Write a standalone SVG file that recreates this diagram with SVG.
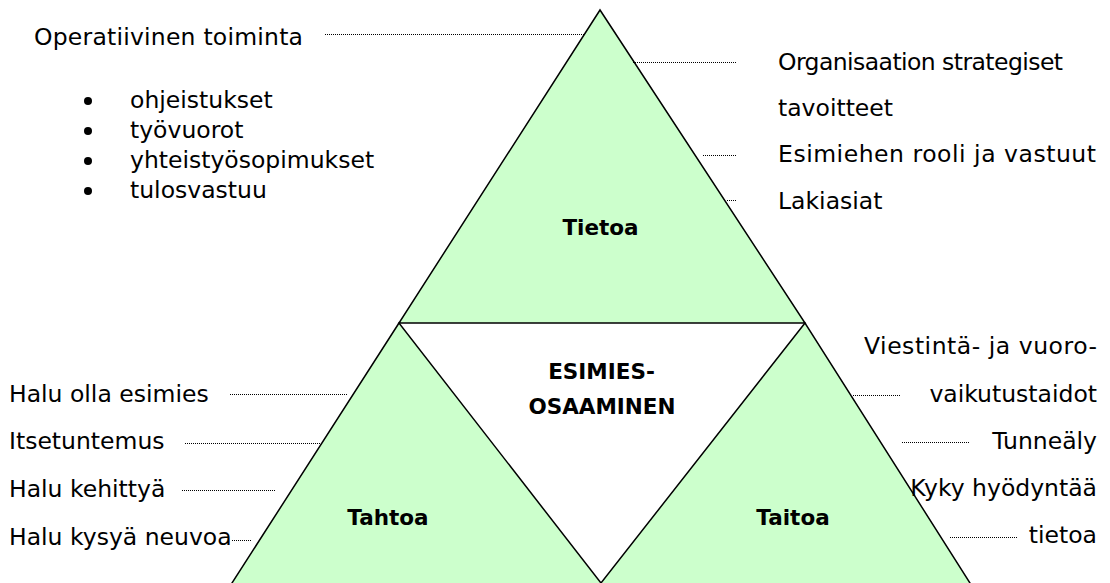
<svg xmlns="http://www.w3.org/2000/svg" width="1110" height="583" viewBox="0 0 1110 583">
<style>
.tri{fill:#CCFFCC;stroke:#000;stroke-width:1.5;stroke-linejoin:miter}
.t{font-family:"DejaVu Sans",Verdana,sans-serif;font-size:23.5px;fill:#000}
.b{font-family:"DejaVu Sans",Verdana,sans-serif;font-size:21.5px;font-weight:bold;fill:#000;text-anchor:middle}
.r{text-anchor:end}
.dot{stroke:#000;stroke-width:1;stroke-dasharray:1 1;fill:none}
</style>
<rect width="1110" height="583" fill="#fff"/>
<g id="tahtoa">
<polygon class="tri" points="399,323 227.5,590 606.4,590"/>
<text class="b" x="388" y="525">Tahtoa</text>
</g>
<g id="taitoa">
<polygon class="tri" points="805,323 595.5,590 974.4,590"/>
<text class="b" x="793" y="525">Taitoa</text>
</g>
<g id="tietoa">
<polygon class="tri" points="600,10 399,323 805,323"/>
<text class="b" x="600.5" y="235">Tietoa</text>
</g>
<g id="esimiesosaaminen">
<text class="b" x="601.5" y="379">ESIMIES-</text>
<text class="b" x="602" y="414">OSAAMINEN</text>
</g>
<g id="operatiivinen">
<text class="t" x="34" y="45" textLength="269" lengthAdjust="spacing">Operatiivinen toiminta</text>
<circle cx="88" cy="101" r="4"/>
<circle cx="88" cy="131" r="4"/>
<circle cx="88" cy="161" r="4"/>
<circle cx="88" cy="191" r="4"/>
<text class="t" x="130" y="108">ohjeistukset</text>
<text class="t" x="130" y="138">työvuorot</text>
<text class="t" x="130" y="168">yhteistyösopimukset</text>
<text class="t" x="130" y="198">tulosvastuu</text>
</g>
<g id="tieto-labels">
<text class="t" x="778" y="70" textLength="285" lengthAdjust="spacing">Organisaation strategiset</text>
<text class="t" x="778" y="116">tavoitteet</text>
<text class="t" x="778" y="162" textLength="318" lengthAdjust="spacing">Esimiehen rooli ja vastuut</text>
<text class="t" x="778" y="209">Lakiasiat</text>
</g>
<g id="tahto-labels">
<text class="t" x="9" y="402">Halu olla esimies</text>
<text class="t" x="9" y="449">Itsetuntemus</text>
<text class="t" x="9" y="497">Halu kehittyä</text>
<text class="t" x="9" y="545">Halu kysyä neuvoa</text>
</g>
<g id="taito-labels">
<text class="t r" x="1097" y="354" textLength="233" lengthAdjust="spacing">Viestintä- ja vuoro-</text>
<text class="t r" x="1097" y="402">vaikutustaidot</text>
<text class="t r" x="1097" y="449">Tunneäly</text>
<text class="t r" x="1097" y="496">Kyky hyödyntää</text>
<text class="t r" x="1097" y="543">tietoa</text>
</g>
<g id="connectors">
<line class="dot" x1="325" y1="34.5" x2="584" y2="34.5"/>
<line class="dot" x1="633" y1="62.5" x2="737" y2="62.5"/>
<line class="dot" x1="703" y1="155.5" x2="737" y2="155.5"/>
<line class="dot" x1="727" y1="200.5" x2="737" y2="200.5"/>
<line class="dot" x1="230" y1="394.5" x2="347" y2="394.5"/>
<line class="dot" x1="185" y1="443.5" x2="320" y2="443.5"/>
<line class="dot" x1="182" y1="490.5" x2="275" y2="490.5"/>
<line class="dot" x1="232" y1="540.5" x2="252" y2="540.5"/>
<line class="dot" x1="853" y1="395.5" x2="900" y2="395.5"/>
<line class="dot" x1="902" y1="442.5" x2="970" y2="442.5"/>
<line class="dot" x1="950" y1="537.5" x2="1018" y2="537.5"/>
</g>
</svg>
